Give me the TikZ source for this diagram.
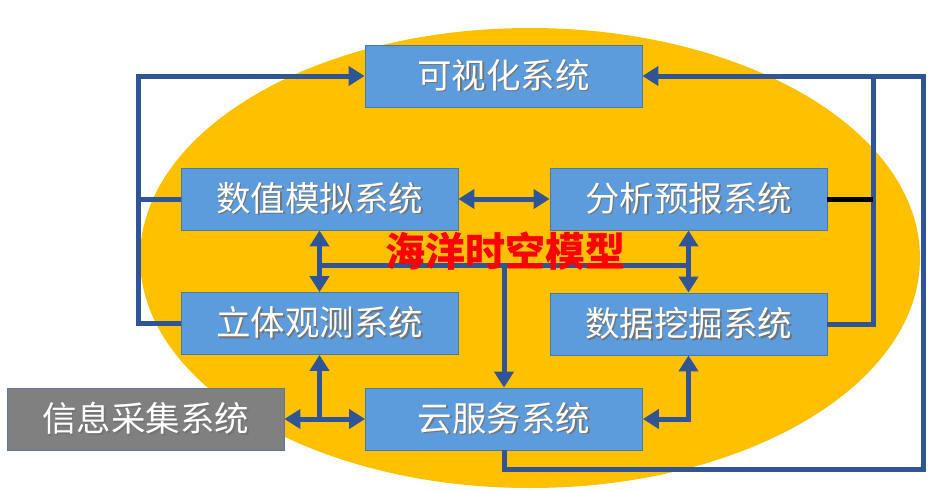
\documentclass[tikz,border=0pt]{standalone}
\usepackage{fontspec}
\newfontfamily\cjk{Noto Sans CJK SC}
\usetikzlibrary{arrows.meta,calc}
\definecolor{ellcol}{RGB}{255,192,0}
\definecolor{boxcol}{RGB}{93,156,220}
\definecolor{boxedge}{RGB}{70,120,170}
\definecolor{graycol}{RGB}{128,128,128}
\definecolor{linecol}{RGB}{47,85,151}
\newcommand\shd[1]{\makebox[0pt][l]{\raisebox{-1.6pt}{\hspace{1.6pt}\textcolor{black!55}{#1}}}#1}
\tikzset{
  sysbox/.style={draw=boxedge, line width=0.8pt, fill=boxcol, minimum width=277pt, minimum height=62pt, inner sep=0pt, text=white, font=\cjk\fontsize{34.5}{40}\selectfont},
  graybox/.style={sysbox, fill=graycol, draw=boxedge!60!gray},
  conn/.style={draw=linecol, line width=5pt},
  tip/.tip={Triangle[width=19pt,length=16pt]},
  arr/.style={conn, -{tip}},
  dbl/.style={conn, {tip}-{tip}},
}
\begin{document}
\begin{tikzpicture}[x=1pt,y=-1pt]
\useasboundingbox (0,0) rectangle (941,490);
\fill[ellcol] (530,258) ellipse [x radius=390pt, y radius=230pt];

\node[sysbox] (vis) at (503.5,76) {\shd{可视化系统}};
\node[sysbox] (sim) at (319.5,199) {\shd{数值模拟系统}};
\node[sysbox] (ana) at (688.5,199) {\shd{分析预报系统}};
\node[sysbox] (obs) at (319.5,323.5) {\shd{立体观测系统}};
\node[sysbox] (mine) at (688.5,324) {\shd{数据挖掘系统}};
\node[graybox] (info) at (145.5,419) {\shd{信息采集系统}};
\node[sysbox] (cloud) at (504,419) {\shd{云服务系统}};

\coordinate (L) at (138,76);
\coordinate (R) at (873,76);
\coordinate (OR) at (923,469);
\coordinate (bus) at (320,265);
\coordinate (busR) at (688.5,265);

% left loop
\draw[arr] (obs.west) -| (L) -- (vis.west);
\draw[conn] (sim.west) -- (sim.west -| L);
% right loop
\draw[arr] (mine.east) -| (R) -- (vis.east);
\draw[line width=5pt, black] (ana.east) -- (ana.east -| R);
% outer loop
\draw[conn] (cloud.south) |- (OR) |- (R);
% sim <-> ana
\draw[dbl] (sim.east) -- (ana.west);
% central bus
\draw[conn] (bus) -- (busR);
\draw[dbl] (sim.south) -- (obs.north);
\draw[dbl] (ana.south) -- (mine.north);
\draw[arr] (cloud.north |- bus) -- (cloud.north);
% bottom
\draw[dbl] (info.east) -- (cloud.west);
\draw[arr] (obs.south |- info.east) -- (obs.south);
\draw[dbl] (mine.south) |- (cloud.east);

\node[text=red, font=\cjk\bfseries\fontsize{40}{44}\selectfont, inner sep=0pt] (title) at (505,251) {海洋时空模型};
\end{tikzpicture}
\end{document}
